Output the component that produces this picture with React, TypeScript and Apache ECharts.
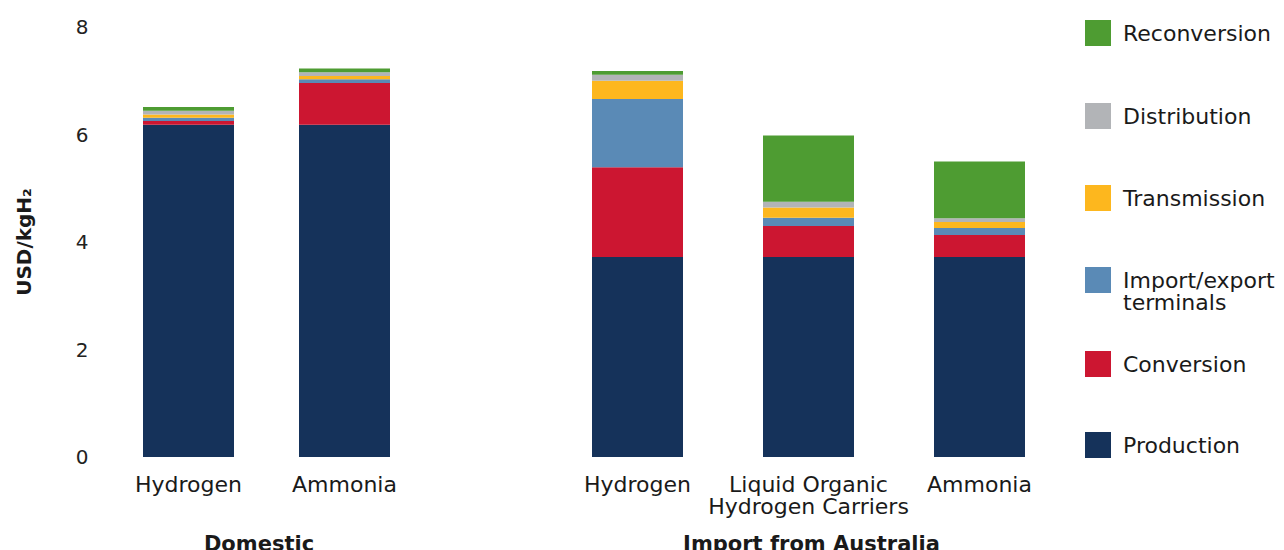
import React, { useEffect, useRef } from "react";
import * as echarts from "echarts";

const domesticCategories = ["Hydrogen", "Ammonia"];
const importCategories = ["Hydrogen", "Liquid Organic\nHydrogen Carriers", "Ammonia"];

const seriesNames = [
  "Production",
  "Conversion",
  "Import/export terminals",
  "Transmission",
  "Distribution",
  "Reconversion",
];
const seriesColors = ["#15325A", "#CC1631", "#5A8AB6", "#FDB71E", "#B2B4B7", "#4E9C32"];

// domestic values per component
const domesticProduction = [6.18, 6.18];
const domesticConversion = [0.07, 0.78];
const domesticTerminals = [0.06, 0.07];
const domesticTransmission = [0.06, 0.06];
const domesticDistribution = [0.07, 0.07];
const domesticReconversion = [0.07, 0.07];

// import from Australia values per component
const importProduction = [3.72, 3.72, 3.72];
const importConversion = [1.67, 0.58, 0.41];
const importTerminals = [1.27, 0.15, 0.13];
const importTransmission = [0.34, 0.19, 0.11];
const importDistribution = [0.11, 0.11, 0.07];
const importReconversion = [0.07, 1.23, 1.06];

const yTicks = [0, 2, 4, 6, 8];

const legendOrder = [
  "Reconversion",
  "Distribution",
  "Transmission",
  "Import/export terminals",
  "Conversion",
  "Production",
];
const legendIconTops = [20, 103, 185, 267, 351, 432];

const FONT = "DejaVu Sans";
const TEXT = "#1a1a1a";

export default function App() {
  const ref = useRef<HTMLDivElement>(null);

  useEffect(() => {
    if (!ref.current) return;
    const chart = echarts.init(ref.current, undefined, { renderer: "svg" });

    const domesticData = [
      domesticProduction,
      domesticConversion,
      domesticTerminals,
      domesticTransmission,
      domesticDistribution,
      domesticReconversion,
    ];
    const importData = [
      importProduction,
      importConversion,
      importTerminals,
      importTransmission,
      importDistribution,
      importReconversion,
    ];

    const series: any[] = [];
    seriesNames.forEach((name, i) => {
      series.push({
        name,
        type: "bar",
        stack: "domestic",
        xAxisIndex: 0,
        yAxisIndex: 0,
        barWidth: 91,
        itemStyle: { color: seriesColors[i] },
        data: domesticData[i],
      });
      series.push({
        name,
        type: "bar",
        stack: "import",
        xAxisIndex: 1,
        yAxisIndex: 1,
        barWidth: 91,
        itemStyle: { color: seriesColors[i] },
        data: importData[i],
      });
    });

    const legends = legendOrder.map((name, i) => {
      const twoLine = name === "Import/export terminals";
      return {
        data: [name],
        orient: "vertical",
        left: 1085,
        top: twoLine ? legendIconTops[i] - 20 : legendIconTops[i],
        padding: 0,
        icon: "rect",
        itemWidth: 26,
        itemHeight: 26,
        formatter: (n: string) =>
          n === "Import/export terminals" ? "\nImport/export\nterminals" : n,
        textStyle: {
          fontFamily: FONT,
          fontSize: 22,
          lineHeight: 22,
          color: TEXT,
          padding: [0, 0, 0, 7],
        },
      };
    });

    const xAxisCommon = {
      type: "category",
      axisLine: { show: false },
      axisTick: { show: false },
      splitLine: { show: false },
      axisLabel: {
        interval: 0,
        margin: 16,
        fontFamily: FONT,
        fontSize: 22,
        lineHeight: 22,
        color: TEXT,
      },
      nameLocation: "middle",
      nameGap: 76,
    };

    const yAxisCommon = {
      type: "value",
      min: yTicks[0],
      max: yTicks[yTicks.length - 1],
      interval: 2,
      splitLine: { show: false },
      axisLine: { show: false },
      axisTick: { show: false },
    };

    chart.setOption({
      animation: false,
      backgroundColor: "#ffffff",
      legend: legends,
      grid: [
        { left: 110.5, top: 27, width: 312, height: 430, outerBoundsMode: "none", containLabel: false },
        { left: 552, top: 27, width: 513, height: 430, outerBoundsMode: "none", containLabel: false },
      ],
      xAxis: [
        {
          ...xAxisCommon,
          gridIndex: 0,
          data: domesticCategories,
          name: "Domestic",
          nameTextStyle: {
            fontFamily: FONT,
            fontSize: 21,
            fontWeight: "bold",
            color: TEXT,
            padding: [0, 15, 0, 0],
          },
        },
        {
          ...xAxisCommon,
          gridIndex: 1,
          data: importCategories,
          name: "Import from Australia",
          nameTextStyle: {
            fontFamily: FONT,
            fontSize: 21,
            fontWeight: "bold",
            color: TEXT,
            padding: [0, 0, 0, 6],
          },
        },
      ],
      yAxis: [
        {
          ...yAxisCommon,
          gridIndex: 0,
          name: "USD/kgH₂",
          nameLocation: "middle",
          nameGap: 77,
          nameRotate: 90,
          nameTextStyle: {
            fontFamily: FONT,
            fontSize: 20,
            fontWeight: "bold",
            color: TEXT,
          },
          axisLabel: {
            margin: 22,
            fontFamily: FONT,
            fontSize: 20,
            color: "#222",
            padding: [0, 0, 8, 0],
          },
        },
        {
          ...yAxisCommon,
          gridIndex: 1,
          axisLabel: { show: false },
        },
      ],
      series,
    });

    return () => chart.dispose();
  }, []);

  return (
    <div
      ref={ref}
      style={{ position: "absolute", left: 0, top: 0, width: 1284, height: 550 }}
    />
  );
}
